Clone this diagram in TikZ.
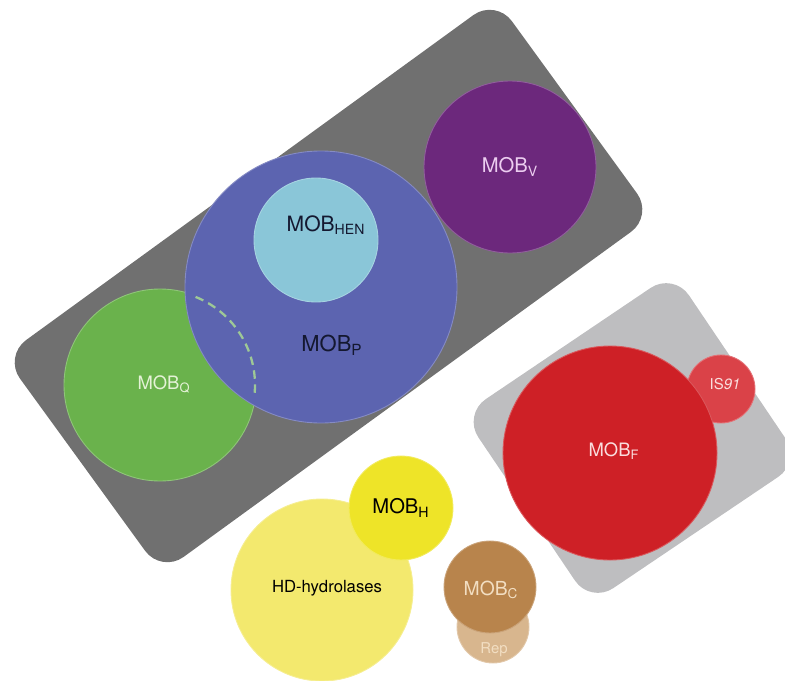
\documentclass[tikz,border=0pt]{standalone}
\usepackage{fontspec}
\setmainfont{TeX Gyre Heros}
\usetikzlibrary{calc}
\definecolor{groupdark}{RGB}{112,112,112}
\definecolor{grouplight}{RGB}{190,190,192}
\definecolor{colv}{RGB}{108,40,124}
\definecolor{colp}{RGB}{92,100,176}
\definecolor{colhen}{RGB}{138,198,216}
\definecolor{colq}{RGB}{106,178,76}
\definecolor{colf}{RGB}{206,32,38}
\definecolor{colis}{RGB}{218,66,72}
\definecolor{colh}{RGB}{238,228,40}
\definecolor{colhd}{RGB}{243,233,110}
\definecolor{colc}{RGB}{184,132,76}
\definecolor{colrep}{RGB}{216,182,142}
\definecolor{dashq}{RGB}{158,200,150}
\definecolor{txtdark}{RGB}{20,24,48}
\definecolor{txtv}{RGB}{236,205,240}
\definecolor{txtq}{RGB}{228,242,214}
\definecolor{txtf}{RGB}{250,222,222}
\definecolor{txtc}{RGB}{242,222,194}

\begin{document}
\begin{tikzpicture}[x=0.2mm,y=0.2mm,
  box/.style={rectangle,inner sep=0pt,rounded corners=5.5mm},
  blob/.style 2 args={circle,inner sep=0pt,fill=#1,draw=#1!75!white,line width=0.5pt,minimum size=#2},
  lbl/.style={inner sep=1pt,font=\fontsize{#1}{#1}\selectfont},
  lbl/.default=11.5]
\useasboundingbox (0,0) rectangle (785,680);

% groups
\node[box,fill=groupdark,minimum width=121.6mm,minimum height=53.6mm,rotate=36] (group) at (328.5,394) {};
\node[box,fill=grouplight,minimum width=50.8mm,minimum height=45.6mm,rotate=34] (groupf) at (632,242) {};

% circles
\node[blob={colq}{38.4mm}] (mobq) at (160,295) {};
\node[blob={colp}{54.4mm}] (mobp) at (321,393) {};
\draw[dashq,line width=1.3pt,dash pattern=on 1.7mm off 1.1mm]
  ($(mobq.center)+(68:19mm)$) arc[start angle=68,end angle=-6,radius=19mm];
\node[blob={colhen}{24.8mm}] (mobhen) at (316,440) {};
\node[blob={colv}{34.4mm}] (mobv) at (510,513) {};
\node[blob={colis}{13.6mm}] (is91) at (721,291) {};
\node[blob={colf}{42.8mm}] (mobf) at (610,227) {};
\node[blob={colhd}{36.4mm}] (hd) at (322,90) {};
\node[blob={colh}{20.8mm}] (mobh) at (401,172) {};
\node[blob={colrep}{14.4mm}] (rep) at (493,53) {};
\node[blob={colc}{18.4mm}] (mobc) at (490,93) {};

% labels
\node[lbl=10.5,text=txtq] (mobqtxt) at ($(mobq)+(4,1)$) {MOB\textsubscript{Q}};
\node[lbl=12.5,text=txtdark] (mobptxt) at ($(mobp)+(11,-58)$) {MOB\textsubscript{P}};
\node[lbl=12,text=txtdark] (mobhentxt) at ($(mobhen)+(10,15)$) {MOB\textsubscript{HEN}};
\node[lbl,text=txtv] (mobvtxt) at (mobv) {MOB\textsubscript{V}};
\node[lbl=8.5,text=txtf] (is91txt) at ($(is91)+(4,5)$) {IS\textit{91}};
\node[lbl=10.5,text=txtf] (mobftxt) at ($(mobf)+(4,2)$) {MOB\textsubscript{F}};
\node[lbl=9.5] (hdtxt) at ($(hd)+(5,2)$) {HD-hydrolases};
\node[lbl] (mobhtxt) at (mobh) {MOB\textsubscript{H}};
\node[lbl=11,text=txtc] (mobctxt) at ($(mobc)+(1,-3)$) {MOB\textsubscript{C}};
\node[lbl=8.5,text=txtc] (reptxt) at ($(rep)+(1,-23)$) {Rep};

\end{tikzpicture}
\end{document}
